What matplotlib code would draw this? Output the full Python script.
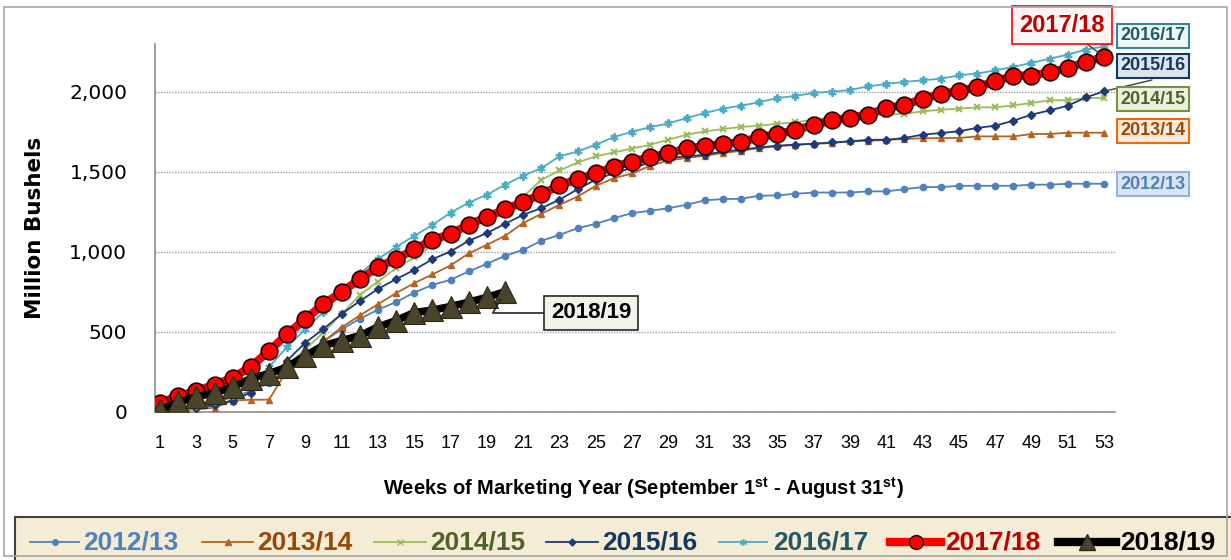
import numpy as np
import matplotlib
matplotlib.use("Agg")
import matplotlib.pyplot as plt
from matplotlib import font_manager
from matplotlib.patches import Rectangle
from matplotlib.lines import Line2D

installed = {f.name for f in font_manager.fontManager.ttflist}
NARROW = 'Liberation Sans Narrow' if 'Liberation Sans Narrow' in installed else 'Liberation Sans'

plt.rcParams['font.family'] = [NARROW, 'DejaVu Sans']
plt.rcParams['mathtext.fontset'] = 'custom'
plt.rcParams['mathtext.rm'] = NARROW + ':bold'
plt.rcParams['mathtext.bf'] = NARROW + ':bold'

# cumulative exports, million bushels, by marketing-year week
weeks = list(range(1, 54))
my_2012 = [10, 20, 35, 60, 90, 130, 180, 250, 360, 440, 515, 581, 638, 686, 745, 793, 825, 877,
           925, 975, 1012, 1069, 1106, 1148, 1175, 1211, 1242, 1257, 1273, 1294, 1322, 1330, 1332,
           1351, 1353, 1363, 1371, 1371, 1371, 1378, 1378, 1392, 1405, 1405, 1413, 1413, 1413,
           1413, 1420, 1420, 1426, 1426, 1426]
my_2013 = [5, 5, 15, 25, 70, 75, 75, 260, 340, 439, 528, 602, 672, 742, 804, 859, 915, 990,
           1044, 1100, 1180, 1238, 1294, 1346, 1413, 1461, 1490, 1538, 1572, 1587, 1601, 1618,
           1632, 1649, 1660, 1670, 1676, 1680, 1691, 1695, 1700, 1706, 1710, 1712, 1712, 1722,
           1722, 1722, 1737, 1737, 1745, 1745, 1745]
my_2014 = [5, 10, 20, 40, 75, 120, 200, 290, 390, 496, 612, 729, 814, 898, 965, 1040, 1100,
           1155, 1210, 1265, 1345, 1450, 1509, 1559, 1597, 1622, 1646, 1670, 1701, 1733, 1753,
           1768, 1781, 1789, 1801, 1810, 1826, 1843, 1850, 1858, 1858, 1864, 1879, 1889, 1895,
           1904, 1904, 1916, 1931, 1948, 1948, 1962, 1962]
my_2015 = [5, 15, 25, 40, 70, 120, 200, 320, 432, 517, 612, 691, 768, 829, 887, 954, 1002,
           1069, 1117, 1175, 1232, 1273, 1326, 1392, 1451, 1493, 1524, 1560, 1587, 1597, 1607,
           1628, 1639, 1653, 1664, 1670, 1676, 1684, 1691, 1701, 1701, 1712, 1733, 1743, 1754,
           1775, 1789, 1820, 1858, 1885, 1914, 1966, 2004]
my_2016 = [15, 25, 40, 70, 105, 160, 280, 405, 517, 623, 740, 865, 955, 1030, 1100, 1168, 1245,
           1308, 1357, 1420, 1476, 1524, 1597, 1628, 1670, 1718, 1751, 1780, 1803, 1837, 1868,
           1896, 1914, 1936, 1962, 1975, 1994, 2002, 2012, 2035, 2050, 2063, 2073, 2083, 2104,
           2115, 2135, 2157, 2182, 2208, 2234, 2265, 2285]
my_2017 = [56, 98, 131, 168, 212, 282, 380, 485, 581, 672, 750, 828, 906, 955, 1015, 1075,
           1112, 1170, 1218, 1265, 1312, 1360, 1415, 1455, 1490, 1532, 1565, 1592, 1616, 1647,
           1660, 1675, 1685, 1719, 1735, 1764, 1792, 1822, 1839, 1858, 1900, 1918, 1957, 1987,
           2006, 2031, 2066, 2102, 2102, 2123, 2150, 2188, 2219]
my_2018 = [10, 58, 93, 118, 155, 207, 238, 279, 351, 413, 445, 475, 530, 570, 620, 635, 658,
           685, 715, 750]

labels = ['2012/13', '2013/14', '2014/15', '2015/16', '2016/17', '2017/18', '2018/19']
line_colors = ['#4f81bd', '#b5631f', '#9bbb59', '#1f3a7a', '#4bacc6', '#ff0000', '#000000']
text_colors = ['#4f81bd', '#984807', '#4f6228', '#17375e', '#215967', '#c00000', '#000000']

fig = plt.figure(figsize=(12.31, 5.6), dpi=100)
W, H = 1231, 560

# outer chart border
fig.patches.append(Rectangle((4 / W, 4 / H), 1223 / W, 549 / H, transform=fig.transFigure,
                             fill=False, edgecolor='#a6a6a6', linewidth=1.2))

ax = fig.add_axes([155 / W, (H - 411.7) / H, 960 / W, (411.7 - 44) / H])

ax.plot(weeks, my_2012, color=line_colors[0], lw=1.3, marker='o', ms=4.5, mfc=line_colors[0],
        mec=line_colors[0], zorder=3)
ax.plot(weeks, my_2013, color=line_colors[1], lw=1.3, marker='^', ms=5, mfc=line_colors[1],
        mec=line_colors[1], zorder=3)
ax.plot(weeks, my_2014, color=line_colors[2], lw=1.3, marker='x', ms=5, mew=1.5, zorder=3)
ax.plot(weeks, my_2015, color=line_colors[3], lw=1.3, marker='D', ms=4, zorder=3)
ax.plot(weeks, my_2016, color=line_colors[4], lw=1.3, marker=(6, 2, 0), ms=6, mew=1.4, zorder=3)
ax.plot(weeks, my_2017, color=line_colors[5], lw=6, marker='o', ms=12, mfc='#ff0000',
        mec='#200000', mew=1.2, zorder=4)
ax.plot(weeks[:len(my_2018)], my_2018, color='black', lw=5.5, marker='^', ms=15.5, mfc='#4a452a',
        mec='#2b2818', mew=0.8, zorder=5)

ax.set_xlim(0.72, 53.6)
ax.set_ylim(0, 2300)
ax.set_yticks([0, 500, 1000, 1500, 2000])
ax.set_yticklabels(['0', '500', '1,000', '1,500', '2,000'], family='DejaVu Sans', fontsize=14.5)
ax.set_xticks(weeks[::2])
ax.set_xticklabels([str(w) for w in weeks[::2]], fontsize=13)
ax.tick_params(axis='both', length=0)
ax.tick_params(axis='x', pad=17)
ax.tick_params(axis='y', pad=20)
ax.yaxis.grid(True, color='#a0a0a0', linestyle=(0, (1, 1)), linewidth=1)
ax.set_axisbelow(True)
for s in ['top', 'right']:
    ax.spines[s].set_visible(False)
for s in ['left', 'bottom']:
    ax.spines[s].set_color('#969696')
    ax.spines[s].set_linewidth(1.3)

fig.text(35 / W, (H - 228) / H, 'Million Bushels', rotation=90, ha='center', va='center',
         family='DejaVu Sans', fontweight='bold', fontsize=15.5)
fig.text(643 / W, (H - 488) / H,
         r'Weeks of Marketing Year (September 1$^{\mathrm{st}}$ - August 31$^{\mathrm{st}}$)',
         ha='center', va='center', fontweight='bold', fontsize=14.5)


def px(x, y):
    return (x, H - y)


# series labels on the right side
boxes = [
    ('2016/17', 1153, 36, '#eef6f8', '#31859c', text_colors[4]),
    ('2015/16', 1153, 66, '#dbe5f1', '#17375e', text_colors[3]),
    ('2014/15', 1153, 99, '#ebf1de', '#77933c', text_colors[2]),
    ('2013/14', 1153, 131, '#fde9d9', '#e46c0a', text_colors[1]),
    ('2012/13', 1153, 184, '#dbe5f1', '#95b3d7', text_colors[0]),
]
for txt, cx, cy, fc, ec, tc in boxes:
    fig.text(cx / W, (H - cy) / H, txt, ha='center', va='center', color=tc, fontsize=13,
             fontweight='bold',
             bbox=dict(boxstyle='square,pad=0.2', facecolor=fc, edgecolor=ec, linewidth=1.5))

ax.annotate('2017/18', xy=(53, my_2017[-1]), xycoords='data', xytext=px(1062, 25),
            textcoords='figure pixels', ha='center', va='center', color='#c00000', fontsize=17,
            fontweight='bold',
            bbox=dict(boxstyle='square,pad=0.3', facecolor='#fff5f5', edgecolor='#ff0000', lw=1.2),
            arrowprops=dict(arrowstyle='-', color='#404040', lw=1, shrinkA=0, shrinkB=2),
            zorder=6)
ax.annotate('', xy=(53, my_2015[-1]), xycoords='data', xytext=px(1152, 80),
            textcoords='figure pixels',
            arrowprops=dict(arrowstyle='-', color='#404040', lw=1, shrinkA=0, shrinkB=0))
ax.annotate('2018/19', xy=(20, my_2018[-1]), xycoords='data', xytext=px(591, 313),
            textcoords='figure pixels', ha='center', va='center', color='black', fontsize=16,
            fontweight='bold',
            bbox=dict(boxstyle='square,pad=0.3', facecolor='#f3f2e8', edgecolor='#262626', lw=1.2),
            arrowprops=dict(arrowstyle='-', color='#262626', lw=1.2, shrinkA=0, shrinkB=6,
                            connectionstyle='angle,angleA=0,angleB=60,rad=0'),
            zorder=6)

# legend strip along the bottom, drawn by hand
fig.patches.append(Rectangle((15 / W, -0.01), (W - 10) / W, (H - 517) / H + 0.01,
                             transform=fig.transFigure, facecolor='#f5ecd6',
                             edgecolor='#404040', linewidth=1.5, zorder=0))
handle_styles = [
    dict(color=line_colors[0], lw=1.3, marker='o', ms=4),
    dict(color=line_colors[1], lw=1.3, marker='^', ms=4),
    dict(color=line_colors[2], lw=1.3, marker='x', ms=4),
    dict(color=line_colors[3], lw=1.3, marker='D', ms=3.5),
    dict(color=line_colors[4], lw=1.3, marker=(6, 2, 0), ms=5),
    dict(color=line_colors[5], lw=6, marker='o', ms=10, mfc='#ff0000', mec='#200000'),
    dict(color='black', lw=6, marker='^', ms=12, mfc='#4a452a', mec='#2b2818'),
]
handle_x = [(30, 79), (202, 253), (374, 426), (546, 598), (719, 767), (890, 941), (1058, 1116)]
text_x = [83, 257, 430, 602, 773, 945, 1120]
ly = (H - 542) / H
for lab, st, (x0, x1), tx, tc in zip(labels, handle_styles, handle_x, text_x, text_colors):
    fig.lines.append(Line2D([x0 / W, x1 / W], [ly, ly], transform=fig.transFigure,
                            markevery=[1], **dict(st, marker=None)))
    fig.lines.append(Line2D([(x0 + x1) / 2 / W], [ly], transform=fig.transFigure, ls='none',
                            **{k: v for k, v in st.items() if k != 'lw'}))
    fig.text(tx / W, ly, lab, ha='left', va='center', color=tc, fontsize=19, fontweight='bold')

fig.savefig('out.png', dpi=100)
